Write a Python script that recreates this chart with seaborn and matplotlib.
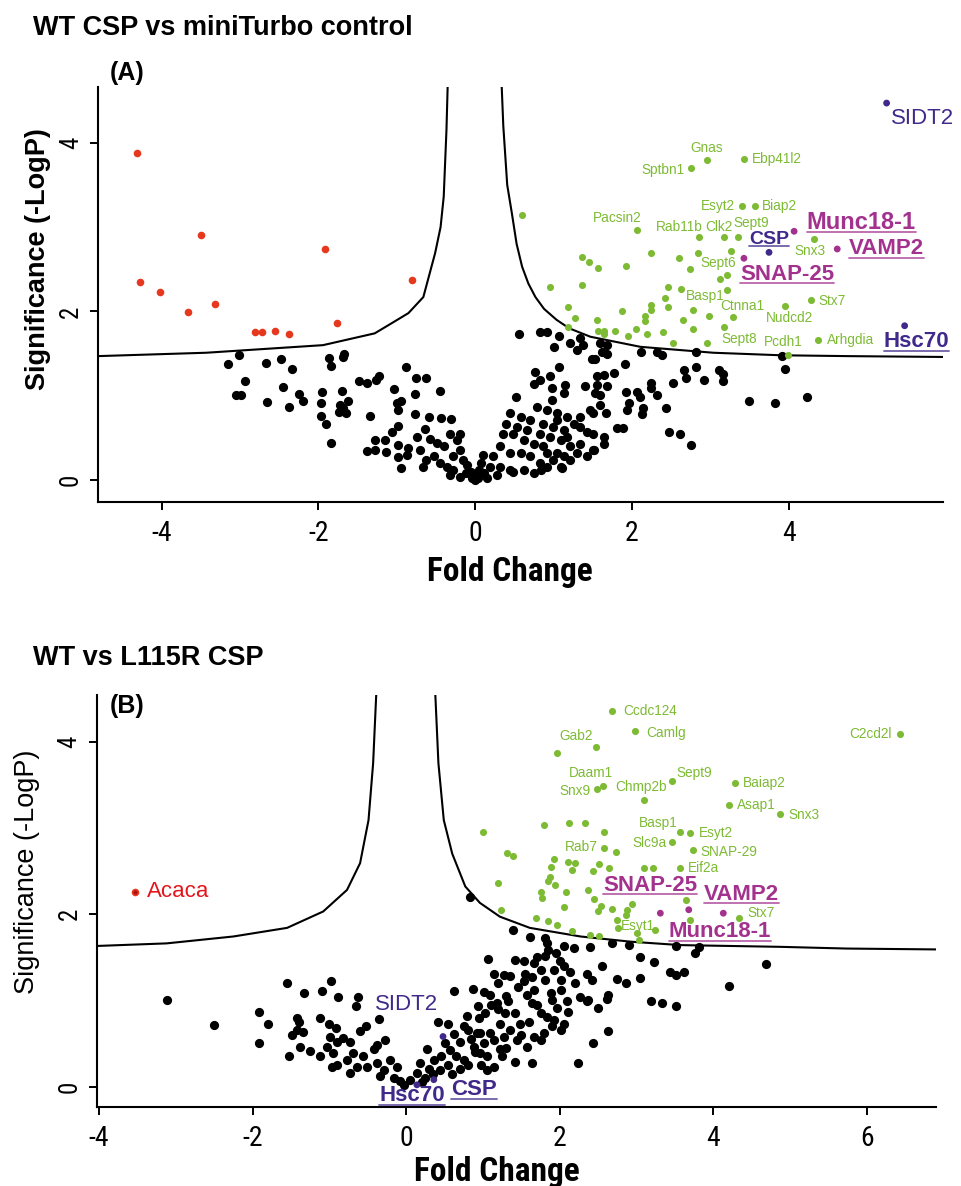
import numpy as np
import pandas as pd
import matplotlib
matplotlib.use("Agg")
import matplotlib.pyplot as plt
import seaborn as sns
from matplotlib.lines import Line2D
from matplotlib.transforms import IdentityTransform

# ---------------- panel A : WT CSP vs miniTurbo control ----------------
A_black_fc = [-3.15, -3.01, -2.93, -3.05, -2.99, -2.67, -2.47, -2.33, -2.45, -2.65, -2.38, -2.24, -2.19,
              -1.86, -1.84, -1.67, -1.68, -1.95, -1.97, -1.97, -1.90, -1.84, -1.70, -1.72, -1.68, -1.62,
              -1.73, -1.65, -1.48, -1.38, -1.26, -1.23, -1.34, -0.88, -0.75, -0.63, -1.03, -0.77, -1.00,
              -0.94, -0.98, -0.45, -0.77, -0.59, -0.43, -0.31, -0.98, -1.06, -1.28, -1.15, -1.38, -1.28,
              -1.14, -0.98, -0.98, -0.94, -0.85, -0.74, -0.64, -0.87,
              -0.57, -0.49, -0.40, -0.32, -0.23, -0.19, -0.53, -0.45, -0.36, -0.28, -0.15, -0.66, -0.62,
              -0.11, -0.02, -0.19, -0.32, -0.70, -0.19, -0.28, 0.02, 0.05, 0.08, 0.10, -0.05, -0.10, 0.00,
              0.04, -0.04,
              0.56, 0.83, 0.92, 1.07, 1.21, 1.34, 1.38, 1.01, 1.30, 1.60, 1.68, 1.62, 1.68, 1.49, 1.53,
              2.12, 2.32, 2.39, 2.82, 3.91, 3.95, 1.91, 1.07, 0.77, 0.95, 0.83, 0.75, 1.55, 1.65, 1.77,
              1.15, 1.40, 1.55, 1.68, 1.53, 1.60, 2.66, 2.82, 2.69, 2.92, 3.11, 3.16, 3.16, 2.52, 2.24,
              2.24, 1.92, 2.06, 2.11, 2.32, 0.98, 1.13, 0.52, 0.98, 3.50, 3.83, 4.24, 1.96, 1.94, 2.14,
              2.13, 2.44, 1.67, 1.81, 1.89, 2.48, 2.62, 2.76, 1.51, 1.47, 1.60, 1.34, 1.11, 1.52, 0.84,
              0.79, 0.92, 1.04, 1.17, 1.26, 1.34, 1.43, 1.51, 1.64, 1.13, 1.00, 0.87, 0.70, 0.58, 0.45,
              0.40, 0.49, 0.62, 0.75, 0.87, 0.96, 1.09, 1.21, 1.34, 1.30, 1.13, 1.00, 0.83, 0.70, 0.58,
              0.45, 0.32, 0.23, 0.19, 0.32, 0.45, 0.62, 0.75, 0.92, 1.09, 1.51, 1.64, 1.43, 1.21, 0.11,
              0.15, 0.28, 0.49, 0.92, 1.04, 1.17, 0.83, 0.66, 0.53, 0.36, 1.04]
A_black_sig = [1.38, 1.48, 1.17, 1.01, 1.01, 1.39, 1.43, 1.32, 1.10, 0.93, 0.87, 1.02, 0.94,
               1.45, 1.35, 1.50, 1.46, 1.04, 0.91, 0.76, 0.66, 0.44, 1.06, 0.89, 0.85, 0.94,
               0.81, 0.79, 1.17, 1.15, 1.19, 1.23, 0.76, 1.34, 1.21, 1.21, 1.08, 1.02, 0.91,
               0.94, 0.83, 1.06, 0.78, 0.75, 0.74, 0.72, 0.64, 0.57, 0.48, 0.48, 0.34, 0.36,
               0.33, 0.42, 0.27, 0.14, 0.38, 0.51, 0.60, 0.30,
               0.49, 0.44, 0.40, 0.55, 0.47, 0.36, 0.28, 0.20, 0.16, 0.12, 0.24, 0.16, 0.24,
               0.08, 0.02, 0.04, 0.06, 0.36, 0.55, 0.28, 0.05, 0.12, 0.20, 0.30, 0.10, 0.18, 0.00,
               0.02, 0.03,
               1.73, 1.75, 1.75, 1.71, 1.62, 1.68, 1.60, 1.58, 1.54, 1.62, 1.60, 1.52, 1.49, 1.44, 1.43,
               1.52, 1.52, 1.48, 1.52, 1.47, 1.32, 1.38, 1.34, 1.28, 1.23, 1.19, 1.14, 1.23, 1.25, 1.27,
               1.13, 1.12, 1.13, 1.11, 1.03, 1.01, 1.31, 1.34, 1.21, 1.19, 1.30, 1.26, 1.17, 1.15, 1.15,
               1.09, 1.04, 1.05, 0.99, 1.01, 1.09, 1.03, 0.99, 0.95, 0.94, 0.91, 0.98, 0.91, 0.83, 0.85,
               0.78, 0.85, 0.80, 0.62, 0.62, 0.57, 0.55, 0.42, 0.79, 0.83, 0.89, 0.75, 0.14, 0.36, 0.12,
               0.87, 0.83, 0.79, 0.75, 0.67, 0.63, 0.57, 0.55, 0.51, 0.59, 0.63, 0.67, 0.71, 0.75, 0.79,
               0.67, 0.55, 0.47, 0.43, 0.40, 0.51, 0.47, 0.40, 0.43, 0.32, 0.28, 0.24, 0.20, 0.28, 0.32,
               0.32, 0.40, 0.28, 0.16, 0.16, 0.12, 0.12, 0.08, 0.16, 0.16, 0.36, 0.43, 0.28, 0.24, 0.08,
               0.03, 0.06, 0.10, 0.32, 0.32, 0.51, 0.55, 0.59, 0.63, 0.55, 0.71]

A_red_fc = [-4.31, -4.27, -4.02, -3.66, -3.50, -3.32, -2.81, -2.72, -2.55, -2.37, -1.92, -1.76, -0.80]
A_red_sig = [3.88, 2.35, 2.23, 1.99, 2.91, 2.09, 1.75, 1.75, 1.77, 1.73, 2.74, 1.86, 2.37]

A_green_fc = [2.96, 2.76, 3.43, 3.41, 3.57, 0.60, 2.07, 2.86, 3.18, 3.36, 4.33, 2.24, 2.60, 2.84, 3.27,
              1.36, 1.45, 1.57, 1.93, 2.74, 3.22, 3.12, 0.96, 1.36, 2.46, 2.63, 2.42, 3.22, 1.18, 2.25,
              2.25, 2.46, 2.78, 1.87, 4.29, 3.95, 1.27, 1.55, 2.17, 2.17, 2.65, 2.98, 3.29, 1.18, 1.57,
              1.65, 1.79, 2.05, 2.40, 2.78, 3.18, 1.64, 1.95, 2.19, 2.53, 2.96, 4.38, 3.99]
A_green_sig = [3.80, 3.70, 3.81, 3.25, 3.25, 3.14, 2.97, 2.88, 2.88, 2.88, 2.86, 2.69, 2.63, 2.69, 2.72,
               2.65, 2.58, 2.52, 2.54, 2.50, 2.43, 2.38, 2.29, 2.31, 2.29, 2.27, 2.16, 2.25, 2.05, 2.08,
               2.02, 2.05, 2.02, 2.00, 2.13, 2.07, 1.92, 1.90, 1.95, 1.89, 1.90, 1.94, 1.93, 1.82, 1.77,
               1.77, 1.77, 1.79, 1.75, 1.79, 1.81, 1.73, 1.71, 1.73, 1.62, 1.62, 1.66, 1.48]
A_green_name = ["Gnas", "Sptbn1", "Ebp41l2", "Esyt2", "Biap2", "", "Pacsin2", "Rab11b", "Clk2", "Sept9",
                "Snx3", "", "", "", "", "", "", "", "", "", "Sept6", "", "", "", "", "", "", "Basp1", "",
                "", "", "", "", "", "Stx7", "Nudcd2", "", "", "", "", "", "", "Ctnna1", "", "", "", "",
                "", "", "", "", "", "", "", "", "Sept8", "Arhgdia", "Pcdh1"]

A_hit_name = ["SIDT2", "CSP", "Hsc70", "Munc18-1", "VAMP2", "SNAP-25"]
A_hit_fc = [5.25, 3.75, 5.48, 4.07, 4.62, 3.43]
A_hit_sig = [4.47, 2.70, 1.83, 2.95, 2.74, 2.63]
A_hit_group = ["chaperone", "chaperone", "chaperone", "snare", "snare", "snare"]

A_curve_left_fc = [-4.81, -3.43, -1.94, -1.28, -1.10, -0.85, -0.66, -0.51, -0.44, -0.40, -0.365, -0.35]
A_curve_left_sig = [1.47, 1.51, 1.60, 1.74, 1.84, 1.98, 2.17, 2.69, 3.00, 3.36, 4.15, 4.66]
A_curve_right_fc = [0.34, 0.36, 0.41, 0.47, 0.53, 0.60, 0.68, 0.77, 0.88, 1.04, 1.20, 1.47, 2.11, 3.04,
                    3.90, 4.75, 5.97]
A_curve_right_sig = [4.66, 4.20, 3.50, 3.16, 2.80, 2.53, 2.33, 2.17, 2.03, 1.90, 1.80, 1.70, 1.58, 1.51,
                     1.48, 1.47, 1.46]

# ---------------- panel B : WT vs L115R CSP ----------------
B_black_fc = [-3.11, -2.50, -1.92, -1.92, -1.80, -1.55, -1.33, -1.09, -0.98, -0.89, -0.63, -0.65, -1.53,
              -1.42, -1.40, -1.49, -1.42, -1.34, -1.38, -1.12, -1.01, -0.92, -0.99, -0.90, -0.82, -0.73,
              -1.25, -1.12, -1.03, -0.95, -0.97, -0.90, -0.60, -0.52, -0.36, -0.73, -0.64, -0.77, -0.69,
              -0.56, -0.42, -0.27, -0.38, -0.51, -0.38, -0.29, -0.21, -0.12, -0.34, -0.16, -0.08, -0.03,
              0.05, 0.14, 0.18, 0.27, 0.36, 0.44, 0.42, 0.62, 0.87, 0.93, 0.79, 0.81, 0.62, 0.70, 0.88,
              0.57, 0.75, 0.92, 0.83,
              1.39, 1.61, 1.81, 1.83, 1.85, 1.81, 2.05, 2.18, 2.40, 2.68, 2.90, 3.52, 3.81, 3.76, 3.05,
              3.23, 2.55, 2.74, 2.86, 3.05, 3.43, 3.52, 3.62, 4.68, 4.21, 1.07, 1.42, 1.53, 1.66, 1.75,
              1.64, 1.14, 1.27, 1.35, 1.53, 1.66, 1.81, 1.92, 2.05, 2.14, 2.01, 2.20, 2.35, 2.42, 2.27,
              1.09, 1.18, 1.33, 1.57, 1.64, 1.88, 2.01, 2.09, 2.63, 2.61, 2.35, 2.37, 2.50, 3.19, 3.33,
              3.52, 1.03, 1.29, 1.42, 1.48, 1.75, 1.83, 1.96, 2.11, 1.90, 1.79, 2.01, 1.66, 1.22, 1.09,
              1.27, 1.44, 1.57, 1.75, 1.92, 2.05, 2.63, 2.43, 2.24, 1.64, 1.42, 1.14, 1.05, 1.22, 1.01,
              1.14, 0.96, 0.96, 1.05,
              0.55, 0.60, 0.65, 0.70, 0.80, 0.85, 0.90, 0.50, 0.45, 0.30, 0.25, 0.20, 0.35, 0.55, 0.75,
              0.95, 0.98, 1.02, 1.10, 1.20, 1.25, 1.30, 1.35, 1.50, 1.60, 1.70, 1.90, 1.30, 1.45, 1.20,
              1.55, 1.70, 1.95, 2.00]
B_black_sig = [1.00, 0.71, 0.87, 0.51, 0.73, 1.20, 1.09, 1.11, 1.22, 1.04, 1.04, 0.93, 0.36,
               0.79, 0.75, 0.60, 0.66, 0.63, 0.46, 0.80, 0.73, 0.68, 0.58, 0.52, 0.56, 0.52,
               0.41, 0.35, 0.46, 0.39, 0.23, 0.25, 0.64, 0.70, 0.78, 0.16, 0.23, 0.31, 0.39,
               0.35, 0.43, 0.54, 0.48, 0.23, 0.27, 0.19, 0.31, 0.23, 0.12, 0.10, 0.06, 0.02,
               0.08, 0.16, 0.27, 0.43, 0.31, 0.19, 0.75, 1.11, 1.13, 0.93, 0.82, 0.66, 0.61, 0.52, 0.46,
               0.42, 0.31, 0.62, 2.20,
               1.82, 1.73, 1.72, 1.66, 1.58, 1.51, 1.63, 1.61, 1.62, 1.67, 1.64, 1.63, 1.62, 1.55, 1.50,
               1.44, 1.40, 1.25, 1.20, 1.26, 1.33, 1.29, 1.33, 1.42, 1.17, 1.48, 1.47, 1.45, 1.43, 1.35,
               1.27, 1.31, 1.29, 1.28, 1.22, 1.12, 1.24, 1.35, 1.40, 1.33, 1.24, 1.20, 1.30, 1.24, 1.04,
               1.06, 0.97, 0.99, 1.06, 0.97, 1.08, 1.12, 0.99, 1.06, 1.02, 0.99, 1.00, 0.91, 0.99, 0.97,
               0.93, 0.85, 0.85, 0.85, 0.73, 0.85, 0.81, 0.91, 0.86, 0.70, 0.62, 0.66, 0.58, 0.73, 0.62,
               0.58, 0.54, 0.46, 0.54, 0.77, 0.73, 0.64, 0.51, 0.27, 0.27, 0.29, 0.23, 0.35, 0.43, 0.50,
               0.54, 0.62, 0.39, 0.19,
               0.25, 0.15, 0.35, 0.20, 0.25, 0.55, 0.40, 0.50, 0.35, 0.20, 0.10, 0.05, 0.15, 0.72, 0.70,
               0.80, 0.25, 1.10, 0.95, 0.90, 0.35, 0.45, 0.65, 0.60, 0.75, 0.95, 1.00, 1.05, 1.15, 1.20,
               1.30, 1.50, 1.55, 1.45]

B_red_fc = [-3.53]
B_red_sig = [2.26]
B_red_name = ["Acaca"]

B_green_fc = [2.68, 2.98, 2.47, 1.96, 6.43, 3.46, 2.48, 2.56, 4.28, 3.10, 4.20, 4.87, 1.79, 2.12, 2.33,
              2.57, 3.56, 3.69, 3.46, 2.58, 2.73, 3.74, 1.31, 1.39, 1.92, 1.88, 2.11, 2.20, 2.16, 2.51,
              2.64, 2.43, 3.10, 3.22, 3.56, 1.87, 1.85, 1.94, 2.08, 1.75, 1.77, 1.20, 2.37, 2.45, 2.06,
              1.24, 2.50, 2.54, 2.68, 2.87, 2.94, 2.86, 3.65, 3.70, 4.33, 1.69, 1.85, 1.96, 2.16, 2.40,
              2.51, 2.74, 2.76, 3.24, 3.00, 3.03, 1.00]
B_green_sig = [4.36, 4.12, 3.94, 3.87, 4.09, 3.54, 3.45, 3.49, 3.52, 3.32, 3.27, 3.16, 3.03, 3.06, 3.06,
               2.95, 2.95, 2.94, 2.84, 2.77, 2.72, 2.74, 2.71, 2.67, 2.64, 2.55, 2.60, 2.59, 2.51, 2.58,
               2.53, 2.50, 2.53, 2.53, 2.53, 2.43, 2.38, 2.34, 2.26, 2.25, 2.19, 2.36, 2.28, 2.18, 2.08,
               2.05, 2.04, 2.09, 2.06, 2.05, 2.12, 1.99, 2.16, 1.93, 1.95, 1.95, 1.92, 1.87, 1.80, 1.76,
               1.74, 1.93, 1.84, 1.82, 1.78, 1.70, 2.95]
B_green_name = ["Ccdc124", "Camlg", "Gab2", "", "C2cd2l", "Sept9", "Snx9", "Daam1", "Baiap2", "Chmp2b",
                "Asap1", "Snx3", "", "", "", "", "Basp1", "Esyt2", "Slc9a", "Rab7", "", "SNAP-29", "", "",
                "", "", "", "", "", "", "", "", "", "", "Eif2a", "", "", "", "", "", "", "", "", "", "",
                "", "", "", "", "", "", "", "", "", "Stx7", "", "", "", "", "", "", "", "", "Esyt1",
                "", "", ""]

B_hit_name = ["SIDT2", "Hsc70", "CSP", "SNAP-25", "Munc18-1", "VAMP2"]
B_hit_fc = [0.48, 0.14, 0.36, 3.31, 3.68, 4.13]
B_hit_sig = [0.58, 0.02, 0.08, 2.01, 2.05, 2.01]
B_hit_group = ["chaperone", "chaperone", "chaperone", "snare", "snare", "snare"]

B_curve_left_fc = [-4.03, -3.12, -2.25, -1.55, -1.08, -0.77, -0.60, -0.49, -0.43, -0.39]
B_curve_left_sig = [1.63, 1.66, 1.74, 1.84, 2.03, 2.28, 2.59, 3.09, 3.75, 4.54]
B_curve_right_fc = [0.38, 0.42, 0.49, 0.60, 0.77, 0.96, 1.22, 1.61, 2.27, 2.92, 3.57, 4.87, 5.74, 6.90]
B_curve_right_sig = [4.54, 3.75, 3.09, 2.70, 2.32, 2.13, 1.97, 1.84, 1.74, 1.68, 1.64, 1.62, 1.60, 1.59]

# ---------------- styling ----------------
GREEN = "#7dbb34"
RED = "#e5381f"
PURPLE = "#40298a"
MAGENTA = "#a3328e"
ACACA_RED = "#e3151b"

sns.set_theme(style="ticks")
plt.rcParams["font.family"] = ["Liberation Sans", "DejaVu Sans"]
plt.rcParams["axes.unicode_minus"] = False
plt.rcParams["text.color"] = "black"
plt.rcParams["axes.labelcolor"] = "black"
plt.rcParams["xtick.color"] = "black"
plt.rcParams["ytick.color"] = "black"
NARROW = ["Liberation Sans Narrow", "Arial Narrow", "Roboto Condensed", "DejaVu Sans Condensed",
          "Liberation Sans"]

# label placement: name -> (dx px, dy px, ha)
A_green_offsets = {"Gnas": (0, 12, "center"), "Sptbn1": (-7, -2, "right"), "Ebp41l2": (8, 0, "left"),
                   "Esyt2": (-8, 0, "right"), "Biap2": (7, 0, "left"), "Pacsin2": (-20, 12, "center"),
                   "Rab11b": (-20, 10, "center"), "Clk2": (-5, 10, "center"), "Sept9": (13, 14, "center"),
                   "Snx3": (-4, -12, "center"), "Sept6": (-9, 12, "center"), "Basp1": (-22, -6, "center"),
                   "Ctnna1": (9, 11, "center"), "Nudcd2": (5, -12, "center"), "Stx7": (7, -1, "left"),
                   "Sept8": (14, 4, "left"), "Pcdh1": (-5, 13, "center"), "Arhgdia": (9, 0, "left")}
B_green_offsets = {"Ccdc124": (11, 0, "left"), "Camlg": (11, -2, "left"), "Gab2": (-20, 11, "center"),
                   "C2cd2l": (-8, 0, "right"), "Sept9": (22, 8, "center"), "Daam1": (-12, 13, "center"),
                   "Snx9": (-6, -2, "right"), "Chmp2b": (-3, 13, "center"), "Baiap2": (8, 0, "left"),
                   "Asap1": (8, 0, "left"), "Snx3": (8, -1, "left"), "Basp1": (-21, 9, "center"),
                   "Esyt2": (9, 0, "left"), "Slc9a": (-5, -1, "right"), "Rab7": (-7, 1, "right"),
                   "SNAP-29": (7, -2, "left"), "Eif2a": (8, 0, "left"), "Stx7": (9, 5, "left"),
                   "Esyt1": (-17, 4, "center")}
# name -> (dx, dy, fontsize, bold/underlined)
A_hit_style = {"SIDT2": (36, -15, 16, False), "CSP": (0, 13, 14, True), "Hsc70": (12, -16, 16, True),
               "Munc18-1": (67, 9, 17, True), "VAMP2": (49, 0, 16, True), "SNAP-25": (43, -16, 16, True)}
B_hit_style = {"SIDT2": (-36, 32, 16, False), "Hsc70": (-5, -11, 16, True), "CSP": (40, -10, 16, True),
               "SNAP-25": (-10, 28, 16, True), "Munc18-1": (31, -22, 16, True), "VAMP2": (18, 19, 16, True)}

fig = plt.figure(figsize=(9.62, 11.86), dpi=100)
axA = fig.add_axes([0.1019, 0.5767, 0.8784, 0.3499])
axB = fig.add_axes([0.1005, 0.0664, 0.8725, 0.3476])

underlined = []


def draw_panel(ax, black, green, red, hits, curves, green_off, hit_style, xlim, ylim, xticks):
    sns.scatterplot(data=black, x="fc", y="sig", color="black", s=44, linewidth=0, ax=ax, zorder=3)
    sns.scatterplot(data=green, x="fc", y="sig", color=GREEN, s=26, linewidth=0, ax=ax, zorder=4)
    sns.scatterplot(data=red, x="fc", y="sig", color=RED, s=30, linewidth=0, ax=ax, zorder=4)
    sns.scatterplot(data=hits, x="fc", y="sig", hue="group", palette={"chaperone": PURPLE, "snare": MAGENTA},
                    s=24, linewidth=0, ax=ax, zorder=5, legend=False)
    for cx, cy in curves:
        sns.lineplot(x=cx, y=cy, sort=False, estimator=None, color="black", lw=1.5, ax=ax, zorder=2)

    for _, r in green.iterrows():
        if r["name"] in green_off:
            dx, dy, ha = green_off[r["name"]]
            ax.annotate(r["name"], (r["fc"], r["sig"]), xytext=(dx, dy), textcoords="offset pixels",
                        ha=ha, va="center", fontsize=9.8, color=GREEN, zorder=6)
    for _, r in hits.iterrows():
        dx, dy, fs, bold = hit_style[r["name"]]
        col = PURPLE if r["group"] == "chaperone" else MAGENTA
        t = ax.annotate(r["name"], (r["fc"], r["sig"]), xytext=(dx, dy), textcoords="offset pixels",
                        ha="center", va="center", fontsize=fs, color=col,
                        fontweight="bold" if bold else "normal", zorder=6)
        if bold:
            underlined.append((t, col))

    ax.set_xlim(*xlim)
    ax.set_ylim(*ylim)
    ax.set_xticks(xticks)
    ax.set_yticks([0, 2, 4])
    ax.set_xlabel("")
    ax.set_ylabel("")
    sns.despine(ax=ax)
    for s in ["left", "bottom"]:
        ax.spines[s].set_linewidth(1.5)
        ax.spines[s].set_color("black")
    ax.tick_params(axis="both", length=6, width=1.4, color="black", labelcolor="black")
    ax.tick_params(axis="x", pad=7)
    ax.tick_params(axis="y", pad=5)
    for lab in ax.get_xticklabels():
        lab.set_fontfamily(NARROW)
        lab.set_fontsize(20)
    for lab in ax.get_yticklabels():
        lab.set_fontfamily(NARROW)
        lab.set_fontsize(18)
        lab.set_rotation(90)
        lab.set_va("center")


def frame(fc, sig, names=None):
    d = pd.DataFrame({"fc": fc, "sig": sig})
    if names is not None:
        d["name"] = names
    return d


A_hits = pd.DataFrame({"fc": A_hit_fc, "sig": A_hit_sig, "name": A_hit_name, "group": A_hit_group})
B_hits = pd.DataFrame({"fc": B_hit_fc, "sig": B_hit_sig, "name": B_hit_name, "group": B_hit_group})

draw_panel(axA, frame(A_black_fc, A_black_sig), frame(A_green_fc, A_green_sig, A_green_name),
           frame(A_red_fc, A_red_sig), A_hits,
           [(A_curve_left_fc, A_curve_left_sig), (A_curve_right_fc, A_curve_right_sig)],
           A_green_offsets, A_hit_style, (-4.81, 5.97), (-0.26, 4.66), [-4, -2, 0, 2, 4])
draw_panel(axB, frame(B_black_fc, B_black_sig), frame(B_green_fc, B_green_sig, B_green_name),
           frame(B_red_fc, B_red_sig), B_hits,
           [(B_curve_left_fc, B_curve_left_sig), (B_curve_right_fc, B_curve_right_sig)],
           B_green_offsets, B_hit_style, (-4.03, 6.90), (-0.24, 4.54), [-4, -2, 0, 2, 4, 6])

# Acaca label
axB.scatter(B_red_fc, B_red_sig, s=9, color="#b01010", zorder=6, linewidth=0)
axB.annotate(B_red_name[0], (B_red_fc[0], B_red_sig[0]), xytext=(12, 0), textcoords="offset pixels",
             ha="left", va="center", fontsize=16, color=ACACA_RED)

# panel titles and axis labels
fig.text(33 / 962, 1 - 28 / 1186, "WT CSP vs miniTurbo control", fontsize=19.5, fontweight="bold",
         ha="left", va="center")
fig.text(33 / 962, 1 - 658 / 1186, "WT vs L115R CSP", fontsize=19.5, fontweight="bold",
         ha="left", va="center")
fig.text(110 / 962, 1 - 73 / 1186, "(A)", fontsize=18, fontweight="bold", ha="left", va="center")
fig.text(110 / 962, 1 - 706 / 1186, "(B)", fontsize=18, fontweight="bold", ha="left", va="center")
fig.text(510 / 962, 1 - 572 / 1186, "Fold Change", fontsize=24, fontweight="bold", family=NARROW,
         ha="center", va="center")
fig.text(497 / 962, 1 - 1172 / 1186, "Fold Change", fontsize=24, fontweight="bold", family=NARROW,
         ha="center", va="center")
fig.text(38 / 962, 1 - 259 / 1186, "Significance (-LogP)", fontsize=19.5, fontweight="bold",
         rotation=90, ha="center", va="center")
fig.text(27 / 962, 1 - 872 / 1186, "Significance (-LogP)", fontsize=19.5,
         rotation=90, ha="center", va="center")

# underline the bold protein labels
fig.canvas.draw()
rend = fig.canvas.get_renderer()
for t, col in underlined:
    bb = t.get_window_extent(rend)
    fig.add_artist(Line2D([bb.x0, bb.x1], [bb.y0 + 1.5, bb.y0 + 1.5], transform=IdentityTransform(),
                          color=col, alpha=0.75, lw=1.3))

fig.savefig("out.png", dpi=100)
